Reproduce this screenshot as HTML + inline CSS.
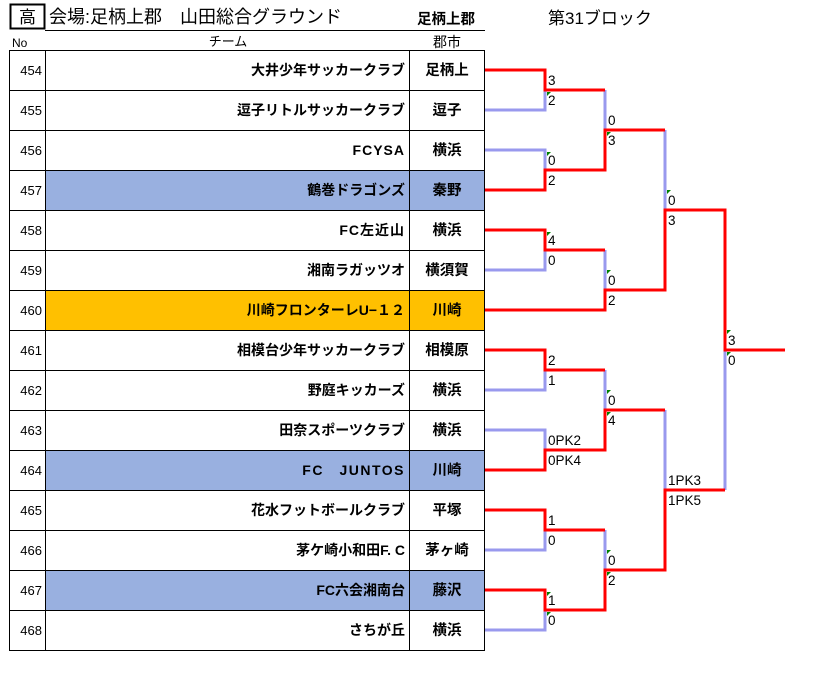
<!DOCTYPE html>
<html><head><meta charset="utf-8"><style>
html,body{margin:0;padding:0;background:#fff;}
svg{display:block;font-family:"Liberation Sans","Noto Sans CJK JP",sans-serif;}
</style></head><body>
<svg width="819" height="688" viewBox="0 0 819 688" xmlns="http://www.w3.org/2000/svg">
<!-- header -->
<rect x="10.5" y="4.5" width="34" height="24" fill="none" stroke="#000" stroke-width="2"/>
<text x="27.5" y="23" font-size="17" text-anchor="middle">高</text>
<text x="49" y="23" font-size="18">会場:足柄上郡　山田総合グラウンド</text>
<text x="417" y="24" font-size="14.5" font-weight="bold">足柄上郡</text>
<text x="548" y="24" font-size="17">第31ブロック</text>
<line x1="45" y1="30.5" x2="485" y2="30.5" stroke="#000"/>
<text x="12" y="47" font-size="12">No</text>
<text x="228" y="46" font-size="13" text-anchor="middle">チーム</text>
<text x="447" y="47" font-size="14" text-anchor="middle">郡市</text>
<!-- fills -->
<rect x="46" y="170" width="439" height="40" fill="#99b0e0"/>
<rect x="46" y="290" width="439" height="40" fill="#ffc000"/>
<rect x="46" y="450" width="439" height="40" fill="#99b0e0"/>
<rect x="46" y="570" width="439" height="40" fill="#99b0e0"/>
<!-- grid -->
<g stroke="#000" stroke-width="1" fill="none">
<rect x="9.5" y="50.5" width="475" height="600"/>
<line x1="45.5" y1="50" x2="45.5" y2="650"/>
<line x1="409.5" y1="50" x2="409.5" y2="650"/>
<line x1="9" y1="90.5" x2="485" y2="90.5"/><line x1="9" y1="130.5" x2="485" y2="130.5"/>
<line x1="9" y1="170.5" x2="485" y2="170.5"/><line x1="9" y1="210.5" x2="485" y2="210.5"/>
<line x1="9" y1="250.5" x2="485" y2="250.5"/><line x1="9" y1="290.5" x2="485" y2="290.5"/>
<line x1="9" y1="330.5" x2="485" y2="330.5"/><line x1="9" y1="370.5" x2="485" y2="370.5"/>
<line x1="9" y1="410.5" x2="485" y2="410.5"/><line x1="9" y1="450.5" x2="485" y2="450.5"/>
<line x1="9" y1="490.5" x2="485" y2="490.5"/><line x1="9" y1="530.5" x2="485" y2="530.5"/>
<line x1="9" y1="570.5" x2="485" y2="570.5"/><line x1="9" y1="610.5" x2="485" y2="610.5"/>
</g>
<!-- numbers -->
<g font-size="13" text-anchor="end">
<text x="42" y="75">454</text><text x="42" y="115">455</text><text x="42" y="155">456</text>
<text x="42" y="195">457</text><text x="42" y="235">458</text><text x="42" y="275">459</text>
<text x="42" y="315">460</text><text x="42" y="355">461</text><text x="42" y="395">462</text>
<text x="42" y="435">463</text><text x="42" y="475">464</text><text x="42" y="515">465</text>
<text x="42" y="555">466</text><text x="42" y="595">467</text><text x="42" y="635">468</text>
</g>
<g font-size="14" font-weight="bold" text-anchor="end">
<text x="405" y="75">大井少年サッカークラブ</text>
<text x="405" y="115">逗子リトルサッカークラブ</text>
<text x="405" y="155" letter-spacing="1">FCYSA</text>
<text x="405" y="195">鶴巻ドラゴンズ</text>
<text x="405" y="235" letter-spacing="1">FC左近山</text>
<text x="405" y="275">湘南ラガッツオ</text>
<text x="405" y="315">川崎フロンターレU−１２</text>
<text x="405" y="355">相模台少年サッカークラブ</text>
<text x="405" y="395">野庭キッカーズ</text>
<text x="405" y="435">田奈スポーツクラブ</text>
<text x="405" y="475" letter-spacing="1.5">FC　JUNTOS</text>
<text x="405" y="515">花水フットボールクラブ</text>
<text x="405" y="555">茅ケ崎小和田F. C</text>
<text x="405" y="595">FC六会湘南台</text>
<text x="405" y="635">さちが丘</text>
</g>
<g font-size="14.5" font-weight="bold" text-anchor="middle">
<text x="447" y="75">足柄上</text><text x="447" y="115">逗子</text><text x="447" y="155">横浜</text>
<text x="447" y="195">秦野</text><text x="447" y="235">横浜</text><text x="447" y="275">横須賀</text>
<text x="447" y="315">川崎</text><text x="447" y="355">相模原</text><text x="447" y="395">横浜</text>
<text x="447" y="435">横浜</text><text x="447" y="475">川崎</text><text x="447" y="515">平塚</text>
<text x="447" y="555">茅ヶ崎</text><text x="447" y="595">藤沢</text><text x="447" y="635">横浜</text>
</g>
<!-- bracket blue -->
<g stroke="#9999ee" stroke-width="3" fill="none">
<polyline points="485,110 545,110 545,90"/>
<polyline points="485,150 545,150 545,170"/>
<polyline points="485,270 545,270 545,250"/>
<polyline points="485,390 545,390 545,370"/>
<polyline points="485,430 545,430 545,450"/>
<polyline points="485,550 545,550 545,530"/>
<polyline points="485,630 545,630 545,610"/>
<polyline points="605,90 605,130"/>
<polyline points="605,250 605,290"/>
<polyline points="605,370 605,410"/>
<polyline points="605,530 605,570"/>
<polyline points="665,130 665,210"/>
<polyline points="665,410 665,490"/>
<polyline points="725,350 725,490"/>
</g>
<!-- bracket red -->
<g stroke="#ff0000" stroke-width="3" fill="none">
<polyline points="485,70 545,70 545,90 605,90"/>
<polyline points="485,190 545,190 545,170 605,170 605,130 665,130"/>
<polyline points="485,230 545,230 545,250 605,250"/>
<polyline points="485,310 605,310 605,290 665,290 665,210 725,210 725,350 785,350"/>
<polyline points="485,350 545,350 545,370 605,370"/>
<polyline points="485,470 545,470 545,450 605,450 605,410 665,410"/>
<polyline points="485,510 545,510 545,530 605,530"/>
<polyline points="485,590 545,590 545,610 605,610 605,570 665,570 665,490 725,490"/>
</g>
<!-- green markers -->
<g fill="#008000">
<polygon points="547,92 551,92 547,96"/>
<polygon points="547,152 551,152 547,156"/>
<polygon points="547,232 551,232 547,236"/>
<polygon points="547,592 551,592 547,596"/>
<polygon points="547,612 551,612 547,616"/>
<polygon points="607,132 611,132 607,136"/>
<polygon points="607,270 611,270 607,274"/>
<polygon points="607,390 611,390 607,394"/>
<polygon points="607,412 611,412 607,416"/>
<polygon points="607,550 611,550 607,554"/>
<polygon points="607,572 611,572 607,576"/>
<polygon points="667,190 671,190 667,194"/>
<polygon points="727,330 731,330 727,334"/>
<polygon points="727,352 731,352 727,356"/>
</g>
<!-- scores -->
<g font-size="13.5">
<text x="548" y="85">3</text><text x="548" y="105">2</text>
<text x="548" y="165">0</text><text x="548" y="185">2</text>
<text x="548" y="245">4</text><text x="548" y="265">0</text>
<text x="548" y="365">2</text><text x="548" y="385">1</text>
<text x="548" y="445">0PK2</text><text x="548" y="465">0PK4</text>
<text x="548" y="525">1</text><text x="548" y="545">0</text>
<text x="548" y="605">1</text><text x="548" y="625">0</text>
<text x="608" y="125">0</text><text x="608" y="145">3</text>
<text x="608" y="285">0</text><text x="608" y="305">2</text>
<text x="608" y="405">0</text><text x="608" y="425">4</text>
<text x="608" y="565">0</text><text x="608" y="585">2</text>
<text x="668" y="205">0</text><text x="668" y="225">3</text>
<text x="668" y="485">1PK3</text><text x="668" y="505">1PK5</text>
<text x="728" y="345">3</text><text x="728" y="365">0</text>
</g>
</svg>
</body></html>
